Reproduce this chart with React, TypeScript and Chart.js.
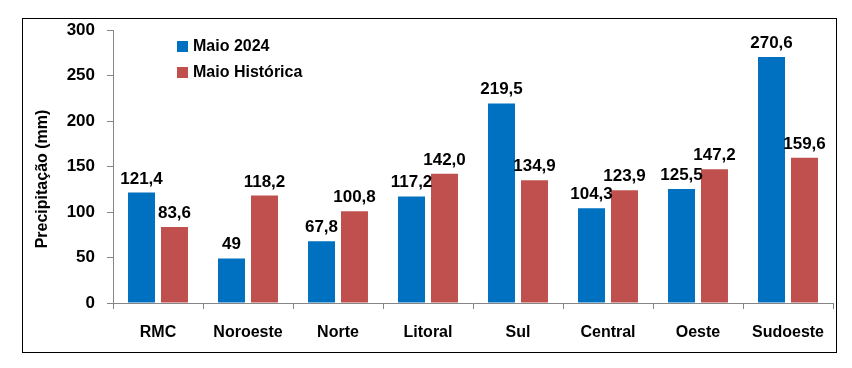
import React, { useEffect, useRef } from "react";
import { Chart, registerables } from "chart.js";

Chart.register(...registerables);

const categories = ["RMC", "Noroeste", "Norte", "Litoral", "Sul", "Central", "Oeste", "Sudoeste"];
const maio2024 = [121.4, 49, 67.8, 117.2, 219.5, 104.3, 125.5, 270.6];
const maioHistorica = [83.6, 118.2, 100.8, 142.0, 134.9, 123.9, 147.2, 159.6];
const maio2024Labels = ["121,4", "49", "67,8", "117,2", "219,5", "104,3", "125,5", "270,6"];
const maioHistoricaLabels = ["83,6", "118,2", "100,8", "142,0", "134,9", "123,9", "147,2", "159,6"];
const seriesNames = ["Maio 2024", "Maio Histórica"];
const yAxisTitle = "Precipitação (mm)";

const BLUE = "#0070C0";
const RED = "#C0504D";
const AXIS = "#868686";
const FONT = "'Liberation Sans', Arial, sans-serif";

export default function App() {
  const ref = useRef<HTMLCanvasElement | null>(null);

  useEffect(() => {
    if (!ref.current) return;
    const allLabels = [maio2024Labels, maioHistoricaLabels];

    const decorPlugin = {
      id: "decor",
      afterDraw(chart: any) {
        const ctx = chart.ctx;
        ctx.save();
        // outer frame
        ctx.strokeStyle = "#000";
        ctx.lineWidth = 1;
        ctx.strokeRect(14.5, 10.5, 814, 334);
        // y-axis title
        ctx.fillStyle = "#000";
        ctx.font = `bold 16px ${FONT}`;
        ctx.textAlign = "center";
        ctx.textBaseline = "middle";
        ctx.translate(35, 171);
        ctx.rotate(-Math.PI / 2);
        ctx.fillText(yAxisTitle, 0, 0);
        ctx.restore();

        // legend
        ctx.save();
        chart.data.datasets.forEach((ds: any, i: number) => {
          const y = 33 + i * 26;
          ctx.fillStyle = ds.backgroundColor;
          ctx.fillRect(169, y, 11, 11);
          ctx.fillStyle = "#000";
          ctx.font = `bold 16px ${FONT}`;
          ctx.textAlign = "left";
          ctx.textBaseline = "middle";
          ctx.fillText(ds.label, 185, y + 6);
        });
        ctx.restore();

        // data labels
        ctx.save();
        ctx.fillStyle = "#000";
        ctx.font = `bold 17px ${FONT}`;
        ctx.textAlign = "center";
        ctx.textBaseline = "alphabetic";
        chart.data.datasets.forEach((_ds: any, i: number) => {
          const meta = chart.getDatasetMeta(i);
          meta.data.forEach((el: any, j: number) => {
            ctx.fillText(allLabels[i][j], el.x, el.y - 9);
          });
        });
        ctx.restore();
      },
    };

    const chart = new Chart(ref.current, {
      type: "bar",
      data: {
        labels: categories,
        datasets: [
          {
            label: seriesNames[0],
            data: maio2024,
            backgroundColor: BLUE,
            categoryPercentage: 0.733,
            barPercentage: 0.818,
          },
          {
            label: seriesNames[1],
            data: maioHistorica,
            backgroundColor: RED,
            categoryPercentage: 0.733,
            barPercentage: 0.818,
          },
        ],
      },
      options: {
        responsive: false,
        animation: false,
        devicePixelRatio: 1,
        layout: { padding: { left: 0, right: 11, top: 22, bottom: 0 } },
        plugins: {
          legend: { display: false },
          tooltip: { enabled: false },
          title: { display: false },
        },
        scales: {
          x: {
            grid: {
              display: true,
              offset: true,
              drawOnChartArea: false,
              drawTicks: true,
              tickLength: 6,
              color: AXIS,
            },
            border: { display: true, color: AXIS },
            ticks: {
              color: "#000",
              font: { family: FONT, size: 16, weight: "bold" },
              padding: 14,
              maxRotation: 0,
            },
            afterFit: (s: any) => {
              s.height = 57;
            },
          },
          y: {
            min: 0,
            max: 300,
            grid: {
              display: true,
              drawOnChartArea: false,
              drawTicks: true,
              tickLength: 6,
              color: AXIS,
            },
            border: { display: true, color: AXIS },
            ticks: {
              stepSize: 50,
              color: "#000",
              font: { family: FONT, size: 17, weight: "bold" },
              padding: 12,
            },
            afterFit: (s: any) => {
              s.width = 105;
            },
          },
        },
      },
      plugins: [decorPlugin],
    });
    return () => chart.destroy();
  }, []);

  return (
    <div style={{ width: 836, height: 352 }}>
      <canvas ref={ref} width={836} height={352} style={{ width: 836, height: 352, display: "block" }} />
    </div>
  );
}
